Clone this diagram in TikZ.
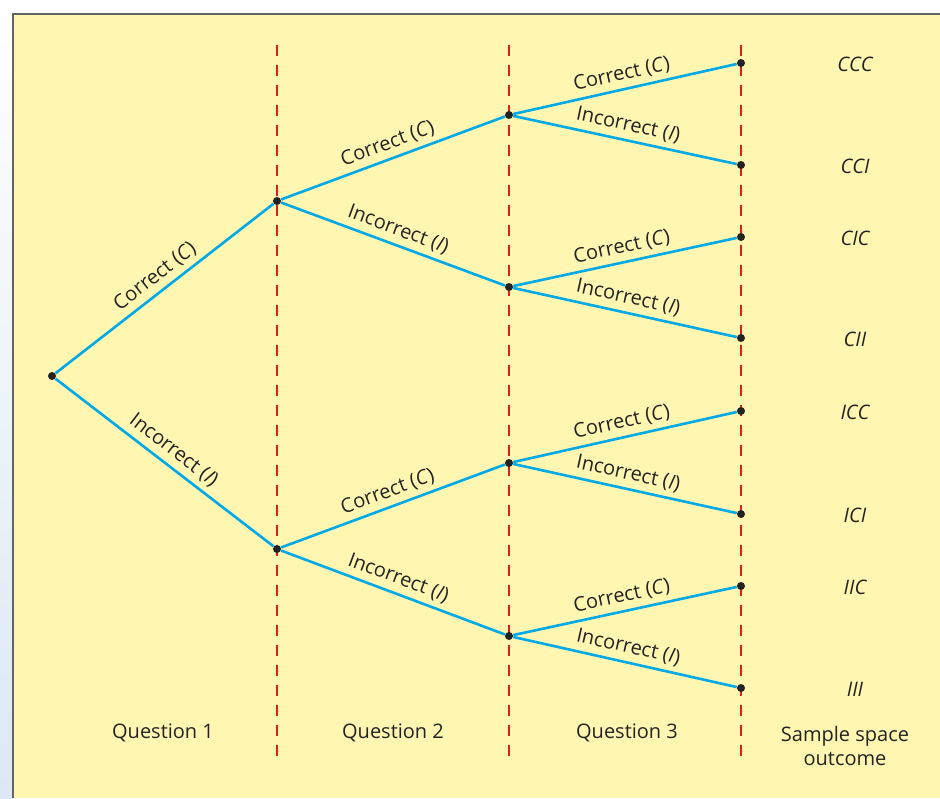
\documentclass[tikz,border=0pt]{standalone}
\usepackage{fontspec}
\setmainfont{Open Sans}
\usetikzlibrary{positioning}
\definecolor{paper}{RGB}{255,246,178}
\definecolor{frame}{RGB}{100,100,100}
\definecolor{sky}{RGB}{0,170,232}
\definecolor{rust}{RGB}{225,30,30}
\definecolor{ink}{RGB}{35,35,35}
\definecolor{mist}{RGB}{220,232,245}
\tikzset{
  dot/.style={circle,fill=ink,inner sep=0pt,minimum size=4pt},
  branch/.style={draw=sky,line width=1.3pt},
  guide line/.style={draw=rust,line width=0.7pt,dash pattern=on 5.5pt off 4.5pt},
  lbl/.style={font=\normalsize,text=ink,sloped,above,inner sep=2.5pt},
  outcome/.style={font=\normalsize\itshape,text=ink},
  head/.style={font=\normalsize,text=ink,align=center},
}

\begin{document}
\begin{tikzpicture}[x=0.5pt,y=-0.5pt]
  % page and panel
  \useasboundingbox (0,0) rectangle (940,798);
  \fill[white!97!mist] (0,0) rectangle (940,798);
  \shade[top color=white!97!mist,bottom color=mist] (0,14) rectangle (13,798);
  \fill[paper] (13,14) rectangle (940,798);
  \draw[frame,line width=1pt] (13,798) -- (13,14) -- (940,14);

  \foreach \x in {277,509,741}
    \draw[guide line] (\x,45) -- (\x,760);

  % tree
  \node[dot] (r) at (52,376) {};
  \node[dot] (c) at (277,201) {};
  \node[dot] (i) at (277,549) {};
  \node[dot] (cc) at (509,115) {};
  \node[dot] (ci) at (509,287) {};
  \node[dot] (ic) at (509,463) {};
  \node[dot] (ii) at (509,636) {};
  \foreach \n/\y/\t in {ccc/63/CCC,cci/165/CCI,cic/237/CIC,cii/338/CII,icc/411/ICC,ici/514/ICI,iic/586/IIC,iii/688/III}{
    \node[dot] (\n) at (741,\y) {};
    \node[outcome] (o\n) at (855,\y+1) {\t};
  }

  \draw[branch] (r) -- node[lbl] {Correct (\textit{C})} (c);
  \draw[branch] (r) -- node[lbl] {Incorrect (\textit{I})} (i);
  \foreach \a in {c,i}{
    \draw[branch] (\a) -- node[lbl] {Correct (\textit{C})} (\a c);
    \draw[branch] (\a) -- node[lbl] {Incorrect (\textit{I})} (\a i);
  }
  \foreach \a in {cc,ci,ic,ii}{
    \draw[branch] (\a) -- node[lbl] {Correct (\textit{C})} (\a c);
    \draw[branch] (\a) -- node[lbl] {Incorrect (\textit{I})} (\a i);
  }

  \node[head] (q1) at (163,733) {Question 1};
  \node[head] (q2) at (393,733) {Question 2};
  \node[head] (q3) at (627,733) {Question 3};
  \node[head] (ss) at (845,746) {Sample space\\outcome};
\end{tikzpicture}
\end{document}
